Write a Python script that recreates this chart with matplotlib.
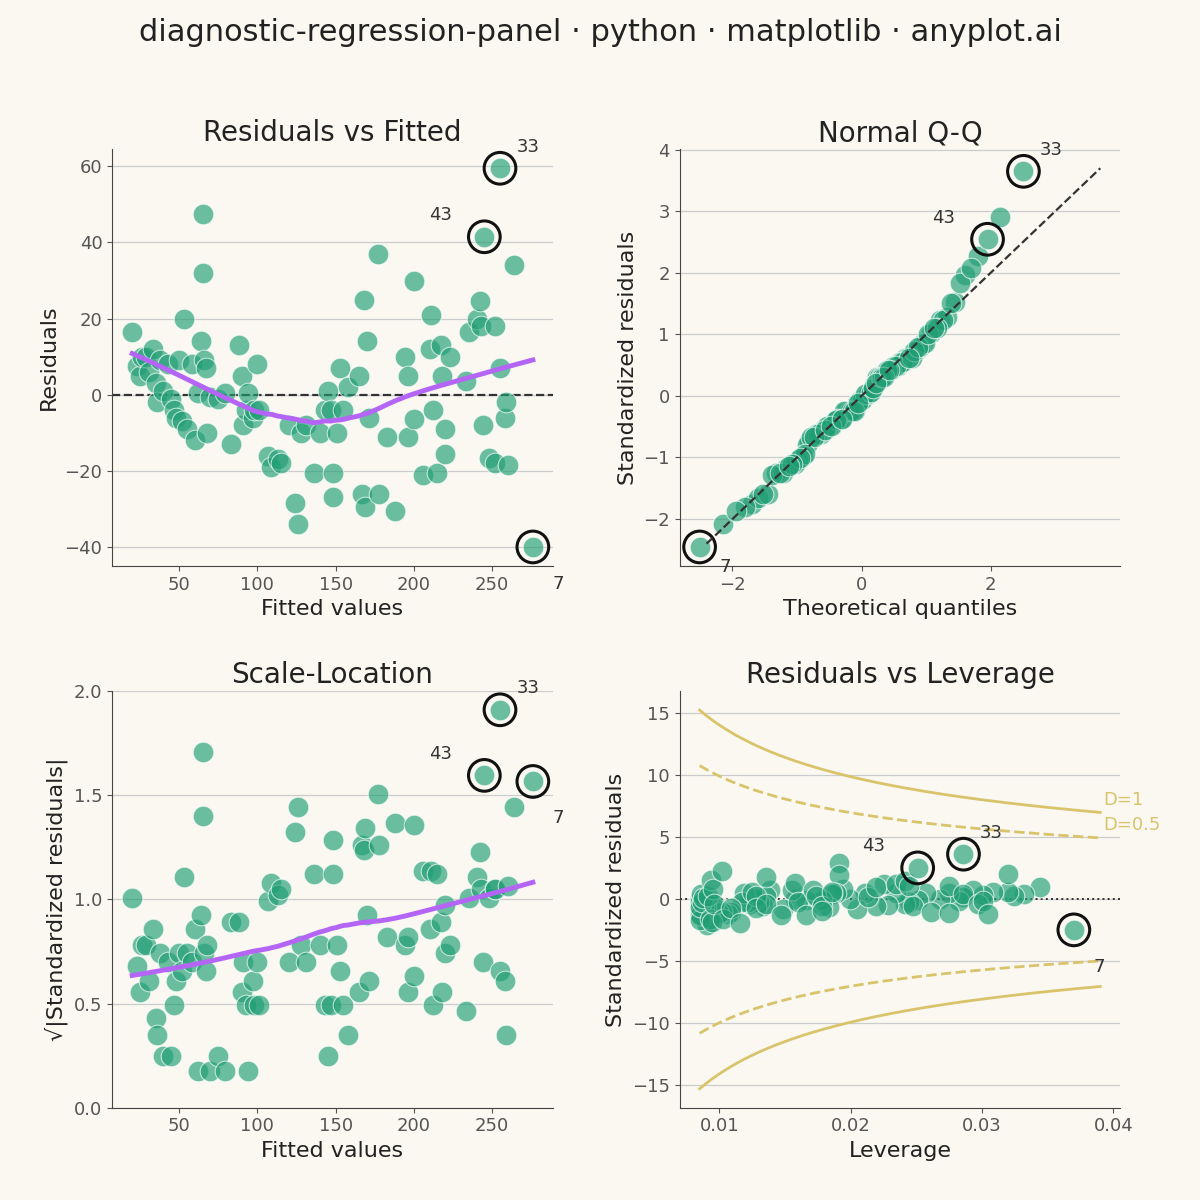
import numpy as np
import matplotlib.pyplot as plt
from statistics import NormalDist

# Fitted values and residuals
fitted = np.array([
    20, 23, 25, 26, 29, 31, 33, 35, 36, 38, 40, 43, 45, 47, 48, 50, 52, 53, 55, 58,
    60, 62, 64, 65, 65, 66, 67, 68, 70, 75, 79, 83, 88, 90, 91, 93, 94, 97, 98, 100,
    101, 107, 109, 113, 115, 120, 124, 126, 128, 131, 136, 140, 143, 145, 147, 148, 148, 151, 153, 155,
    158, 165, 167, 168, 169, 170, 171, 177, 178, 183, 188, 194, 196, 196, 200, 200, 206, 210, 211, 212,
    215, 217, 218, 220, 220, 223, 233, 235, 240, 242, 243, 244, 245, 248, 252, 252, 255, 255, 258, 259,
    260, 264, 276])
residuals = np.array([
    16.6, 7.6, 5, 10, 10, 6, 12, 3, -2, 9, 1, 8, -1, -4, -6, 9, -7, 20, -9, 8,
    -12, 0.5, 14, 47.5, 32, 9, 7, -10, -0.5, -1, 0.5, -13, 13, 5, -8, -4, 0.5, -6, -4, 8,
    -4, -16, -19, -17, -18, -8, -28.5, -34, -10, -8, -20.5, -10, -4, 1, -4, -20.5, -27, -10, 7, -4,
    2, 5, -26, 25, -29.5, 14, -6, 37, -26, -11, -30.5, 10, 5, -11, -6.5, 30, -21, 12, 21, -4,
    -20.5, 13, 5, -9, -15.5, 10, 3.5, 16.5, 20, 24.5, 18, -8, 41.5, -16.5, -18, 18, 59.5, 7, -6, -2,
    -18.5, 34, -40])
# flagged observations: position in arrays -> label
flag_pos = [96, 92, 102]
flag_ids = ["33", "43", "7"]

BG = "#FAF8F1"
GREEN = "#1f9e74"
PURPLE = "#b565f5"
GOLD = "#d9c46c"
TXT = "#222222"

n = len(fitted)
p = 2
sigma = 16.3
h_min = 0.0085
# leverage grows with squared distance from the centre of the fitted values
lev = h_min + 1.66e-6 * (fitted - 145) ** 2
std_res = residuals / sigma
sqrt_abs = np.sqrt(np.abs(std_res))
top = np.array(flag_pos)


def lowess(x, y, frac=2 / 3):
    order = np.argsort(x)
    xs, ys = x[order], y[order]
    k = int(np.ceil(frac * len(xs)))
    out = np.empty_like(xs, dtype=float)
    for i, x0 in enumerate(xs):
        d = np.abs(xs - x0)
        h = np.sort(d)[k - 1]
        w = np.clip(1 - (d / h) ** 3, 0, None) ** 3
        A = np.vstack([np.ones_like(xs), xs - x0]).T
        W = np.diag(w)
        beta = np.linalg.lstsq(A.T @ W @ A, A.T @ W @ ys, rcond=None)[0]
        out[i] = beta[0]
    return xs, out


plt.rcParams.update({"font.family": "DejaVu Sans", "axes.facecolor": BG, "figure.facecolor": BG})
fig, axes = plt.subplots(2, 2, figsize=(12, 12), dpi=100)
fig.suptitle("diagnostic-regression-panel · python · matplotlib · anyplot.ai", fontsize=22, color=TXT, y=0.985)


def style(ax, title, xl, yl):
    ax.set_title(title, fontsize=20, color=TXT)
    ax.set_xlabel(xl, fontsize=16, color=TXT)
    ax.set_ylabel(yl, fontsize=16, color=TXT)
    for sp in ["top", "right"]:
        ax.spines[sp].set_visible(False)
    for sp in ["left", "bottom"]:
        ax.spines[sp].set_color("#444444")
    ax.tick_params(labelsize=13, colors="#555555")
    ax.yaxis.grid(True, color="#cccccc", linewidth=0.9)
    ax.set_axisbelow(True)


def scatter(ax, x, y, low_off=(14, -30)):
    ax.scatter(x, y, s=220, color=GREEN, alpha=0.65, edgecolor="white", linewidth=0.8, zorder=3)
    ax.scatter(x[top], y[top], s=520, facecolor="none", edgecolor="#111111", linewidth=2.2, zorder=4)
    offs = [(12, 12), (-40, 12), low_off]
    for j, idx in enumerate(top):
        ax.annotate(flag_ids[j], (x[idx], y[idx]), xytext=offs[j], textcoords="offset points",
                    fontsize=13, color="#333333")


# Residuals vs Fitted
ax = axes[0, 0]
scatter(ax, fitted, residuals)
ax.axhline(0, color="#333333", linestyle="--", linewidth=1.6)
lx, ly = lowess(fitted, residuals)
ax.plot(lx, ly, color=PURPLE, linewidth=3.5, zorder=5)
style(ax, "Residuals vs Fitted", "Fitted values", "Residuals")

# Normal Q-Q
ax = axes[0, 1]
order = np.argsort(std_res)
theo = np.empty(n)
theo[order] = [NormalDist().inv_cdf((i + 1 - 0.375) / (n + 0.25)) for i in range(n)]
scatter(ax, theo, std_res, low_off=(14, -18))
ax.plot([-2.4, 3.7], [-2.4, 3.7], color="#333333", linestyle="--", linewidth=1.6, zorder=5)
ax.set_xticks([-2, 0, 2])
style(ax, "Normal Q-Q", "Theoretical quantiles", "Standardized residuals")

# Scale-Location
ax = axes[1, 0]
scatter(ax, fitted, sqrt_abs)
lx, ly = lowess(fitted, sqrt_abs)
ax.plot(lx, ly, color=PURPLE, linewidth=3.5, zorder=5)
ax.set_yticks([0, 0.5, 1.0, 1.5, 2.0])
style(ax, "Scale-Location", "Fitted values", "√|Standardized residuals|")

# Residuals vs Leverage
ax = axes[1, 1]
scatter(ax, lev, std_res)
ax.axhline(0, color="#333333", linestyle=":", linewidth=1.4)
hh = np.linspace(lev.min(), 0.039, 200)
for D, ls in [(1, "-"), (0.5, "--")]:
    b = np.sqrt(D * p * (1 - hh) / hh)
    ax.plot(hh, b, color=GOLD, linestyle=ls, linewidth=2)
    ax.plot(hh, -b, color=GOLD, linestyle=ls, linewidth=2)
    ax.text(hh[-1] + 0.0002, b[-1] + 0.6, f"D={D}", color=GOLD, fontsize=13)
ax.set_xticks([0.01, 0.02, 0.03, 0.04])
ax.set_xticklabels(["0.01", "0.02", "0.03", "0.04"])
style(ax, "Residuals vs Leverage", "Leverage", "Standardized residuals")

plt.tight_layout(rect=[0.02, 0.02, 0.98, 0.95], h_pad=3, w_pad=3)
plt.savefig("out.png", dpi=100)
